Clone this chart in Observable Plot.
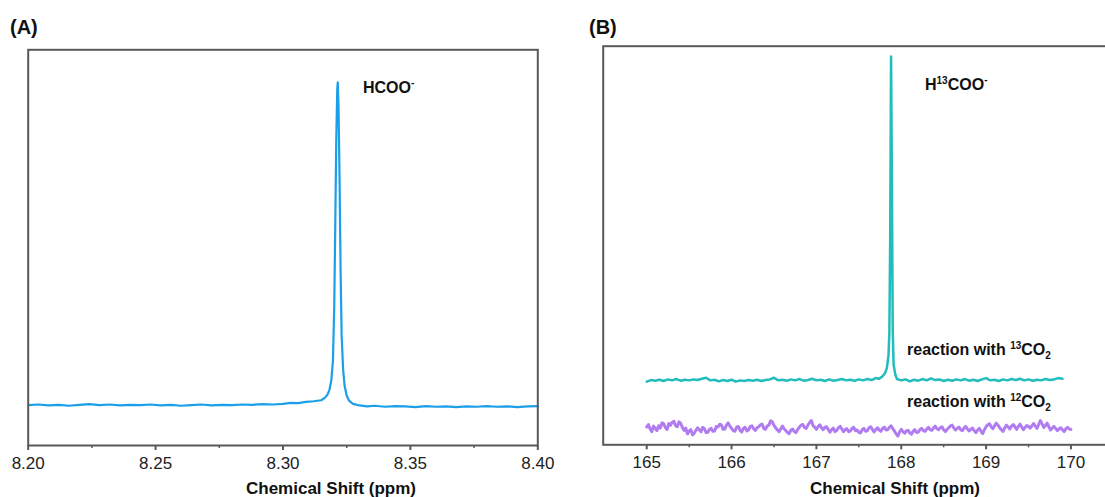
<!DOCTYPE html>
<html>
<head>
<meta charset="utf-8">
<script src="https://cdn.jsdelivr.net/npm/d3@7"></script>
<script src="https://cdn.jsdelivr.net/npm/@observablehq/plot@0.6"></script>
<style>
  html, body { margin: 0; padding: 0; background: #fff; overflow: hidden; }
  #wrap { position: relative; width: 1105px; height: 497px; overflow: hidden; font-family: "Liberation Sans", Arial, sans-serif; }
  #wrap > div.panel { position: absolute; top: 0; height: 497px; }
  #wrap svg { max-width: none !important; }
  #overlay { position: absolute; left: 0; top: 0; pointer-events: none; }
</style>
</head>
<body>
<div id="wrap">
  <div class="panel" id="pa" style="left:0px; width:560px"></div>
  <div class="panel" id="pb" style="left:560px; width:562px"></div>
  <svg id="overlay" width="1105" height="497" font-family="Liberation Sans, Arial, sans-serif" fill="#111">
    <text x="10" y="34" font-size="20" font-weight="bold">(A)</text>
    <text x="589" y="34" font-size="20" font-weight="bold">(B)</text>
    <text x="363" y="93" font-size="16" font-weight="bold">HCOO<tspan font-size="10" dy="-7">-</tspan></text>
    <text x="925" y="90" font-size="16" font-weight="bold">H<tspan font-size="10" dy="-6">13</tspan><tspan dy="6">COO</tspan><tspan font-size="10" dy="-7">-</tspan></text>
    <text x="907" y="355" font-size="16" font-weight="bold">reaction with <tspan font-size="10" dy="-6">13</tspan><tspan dy="6">CO</tspan><tspan font-size="10" dy="4">2</tspan></text>
    <text x="907" y="407" font-size="16" font-weight="bold">reaction with <tspan font-size="10" dy="-6">12</tspan><tspan dy="6">CO</tspan><tspan font-size="10" dy="4">2</tspan></text>
    <text x="331" y="494" font-size="17" font-weight="bold" text-anchor="middle">Chemical Shift (ppm)</text>
    <text x="895" y="494" font-size="17" font-weight="bold" text-anchor="middle">Chemical Shift (ppm)</text>
  </svg>
</div>
<script>
// ---- Panel A: 1H NMR, HCOO- (ppm, intensity) ----
const spectrumA = [
  [8.200,0.1],[8.204,0.3],[8.208,0.0],[8.212,0.2],[8.216,-0.1],[8.220,0.2],[8.224,0.4],[8.228,0.1],
  [8.232,0.3],[8.236,0.0],[8.240,0.2],[8.244,0.1],[8.248,0.3],[8.252,0.0],[8.256,0.2],[8.260,-0.1],
  [8.264,0.1],[8.268,0.3],[8.272,0.0],[8.276,0.2],[8.280,0.1],[8.284,0.3],[8.288,0.2],[8.292,0.4],
  [8.296,0.3],[8.300,0.5],[8.303,0.8],[8.306,0.7],[8.309,1.1],[8.312,1.3],[8.3150,1.6],[8.3165,2.4],
  [8.3175,3.4],[8.3183,5.0],[8.3190,8],[8.3196,14],[8.3201,30],[8.3205,55],[8.3209,82],[8.3213,98],
  [8.3215,100],[8.3218,92],[8.3222,70],[8.3226,42],[8.3230,22],[8.3236,11],[8.3242,6],[8.3250,3],
  [8.3260,1.4],[8.3275,0.5],[8.330,0.0],[8.333,-0.3],[8.336,-0.1],[8.340,-0.4],[8.344,-0.2],[8.348,-0.3],
  [8.352,-0.5],[8.356,-0.2],[8.360,-0.4],[8.364,-0.3],[8.368,-0.5],[8.372,-0.3],[8.376,-0.4],[8.380,-0.2],
  [8.384,-0.4],[8.388,-0.3],[8.392,-0.5],[8.396,-0.3],[8.400,-0.2]
];
const ticksA = [8.20, 8.25, 8.30, 8.35, 8.40];
const minorTicksA = [8.225, 8.275, 8.325, 8.375];

// ---- Panel B: 13C NMR, reaction with 13CO2 (teal) and 12CO2 (purple) ----
const spectrum13 = [
  [165.00,-0.2],[165.05,0.3],[165.10,0.1],[165.15,0.4],[165.20,0.0],[165.25,0.5],[165.30,0.2],[165.35,0.6],
  [165.40,0.1],[165.45,0.4],[165.50,0.2],[165.55,0.5],[165.60,0.3],[165.65,0.7],[165.70,1.0],[165.75,0.2],
  [165.80,0.4],[165.85,-0.1],[165.90,0.3],[165.95,0.0],[166.00,0.4],[166.05,-0.2],[166.10,0.2],[166.15,0.0],
  [166.20,0.3],[166.25,0.1],[166.30,0.4],[166.35,0.0],[166.40,0.3],[166.45,0.5],[166.50,1.0],[166.55,0.2],
  [166.60,0.4],[166.65,0.1],[166.70,0.5],[166.75,0.2],[166.80,0.6],[166.85,0.1],[166.90,0.3],[166.95,0.7],
  [167.00,0.2],[167.05,0.4],[167.10,0.0],[167.15,0.5],[167.20,0.1],[167.25,0.3],[167.30,0.6],[167.35,0.2],
  [167.40,0.4],[167.45,0.1],[167.50,0.5],[167.55,0.2],[167.60,0.6],[167.65,0.3],[167.70,0.9],[167.74,0.7],
  [167.78,1.5],[167.81,2.5],[167.83,4],[167.85,8],[167.86,15],[167.87,45],[167.88,100],[167.89,60],
  [167.90,15],[167.91,5],[167.93,2],[167.95,0.6],[168.00,0.2],[168.05,0.5],[168.10,-0.1],[168.15,0.4],
  [168.20,0.1],[168.25,0.6],[168.30,0.2],[168.35,0.8],[168.40,0.3],[168.45,0.5],[168.50,0.0],[168.55,0.4],
  [168.60,0.1],[168.65,0.5],[168.70,0.2],[168.75,0.6],[168.80,0.1],[168.85,0.4],[168.90,0.0],[168.95,0.5],
  [169.00,0.9],[169.05,0.2],[169.10,0.4],[169.15,0.0],[169.20,0.5],[169.25,0.2],[169.30,0.6],[169.35,0.3],
  [169.40,0.7],[169.45,0.2],[169.50,0.5],[169.55,0.1],[169.60,0.4],[169.65,0.2],[169.70,0.6],[169.75,0.3],
  [169.80,0.5],[169.85,0.9],[169.90,0.7]
];
const spectrum12 = [
  [165.00,-14.2],[165.02,-13.4],[165.04,-14.8],[165.06,-15.6],[165.08,-13.9],[165.10,-14.6],[165.12,-15.3],[165.14,-13.8],
  [165.16,-14.5],[165.18,-12.9],[165.20,-13.2],[165.22,-14.4],[165.24,-14.9],[165.26,-13.1],[165.28,-13.6],[165.30,-12.7],
  [165.32,-12.4],[165.34,-13.8],[165.36,-14.1],[165.38,-12.6],[165.40,-13.0],[165.42,-14.3],[165.44,-15.2],[165.46,-14.5],
  [165.48,-16.3],[165.50,-15.4],[165.52,-15.0],[165.54,-16.6],[165.56,-16.1],[165.58,-15.2],[165.60,-14.4],[165.62,-15.1],
  [165.64,-15.6],[165.66,-14.3],[165.68,-14.7],[165.70,-15.9],[165.72,-15.8],[165.74,-14.9],[165.76,-14.6],[165.78,-15.5],
  [165.80,-15.4],[165.82,-14.0],[165.84,-14.2],[165.86,-13.3],[165.88,-13.5],[165.90,-14.9],[165.92,-14.8],[165.94,-13.6],
  [165.96,-12.9],[165.98,-13.9],[166.00,-14.6],[166.02,-15.3],[166.04,-15.5],[166.06,-14.2],[166.08,-14.0],[166.10,-15.2],
  [166.12,-15.7],[166.14,-14.6],[166.16,-14.3],[166.18,-15.4],[166.20,-15.1],[166.22,-14.0],[166.24,-13.8],[166.26,-14.7],
  [166.28,-15.2],[166.30,-14.4],[166.32,-14.1],[166.34,-13.5],[166.36,-13.3],[166.38,-14.6],[166.40,-14.9],[166.42,-13.8],
  [166.44,-13.6],[166.46,-12.3],[166.48,-12.6],[166.50,-13.7],[166.52,-14.4],[166.54,-15.1],[166.56,-15.6],[166.58,-14.7],
  [166.60,-13.9],[166.62,-14.8],[166.64,-15.3],[166.66,-15.9],[166.68,-16.2],[166.70,-15.1],[166.72,-14.8],[166.74,-15.6],
  [166.76,-15.9],[166.78,-14.9],[166.80,-14.2],[166.82,-13.6],[166.84,-13.4],[166.86,-14.3],[166.88,-14.6],[166.90,-13.6],
  [166.92,-12.8],[166.94,-12.2],[166.96,-13.7],[166.98,-14.2],[167.00,-14.9],[167.02,-14.1],[167.04,-13.5],[167.06,-14.4],
  [167.08,-15.0],[167.10,-14.3],[167.12,-14.1],[167.14,-15.0],[167.16,-15.8],[167.18,-15.0],[167.20,-14.5],[167.22,-15.6],
  [167.24,-15.2],[167.26,-14.4],[167.28,-14.0],[167.30,-14.8],[167.32,-15.6],[167.34,-14.9],[167.36,-14.7],[167.38,-15.6],
  [167.40,-15.4],[167.42,-14.6],[167.44,-14.3],[167.46,-15.3],[167.48,-15.1],[167.50,-15.8],[167.52,-16.0],[167.54,-15.0],
  [167.56,-14.6],[167.58,-15.5],[167.60,-15.3],[167.62,-14.4],[167.64,-14.1],[167.66,-14.9],[167.68,-15.7],[167.70,-15.0],
  [167.72,-14.4],[167.74,-15.1],[167.76,-15.5],[167.78,-14.6],[167.80,-14.2],[167.82,-15.1],[167.84,-15.0],[167.86,-14.3],
  [167.88,-13.8],[167.90,-14.7],[167.92,-15.4],[167.94,-16.3],[167.96,-17.0],[167.98,-15.7],[168.00,-14.9],[168.02,-15.6],
  [168.04,-16.1],[168.06,-15.4],[168.08,-15.2],[168.10,-16.0],[168.12,-16.4],[168.14,-15.5],[168.16,-15.0],[168.18,-15.9],
  [168.20,-15.8],[168.22,-15.0],[168.24,-14.6],[168.26,-15.3],[168.28,-15.5],[168.30,-14.8],[168.32,-14.3],[168.34,-15.0],
  [168.36,-15.2],[168.38,-14.5],[168.40,-13.9],[168.42,-14.7],[168.44,-15.0],[168.46,-14.4],[168.48,-14.1],[168.50,-15.0],
  [168.52,-15.6],[168.54,-14.9],[168.56,-14.4],[168.58,-13.8],[168.60,-13.6],[168.62,-14.5],[168.64,-15.1],[168.66,-14.6],
  [168.68,-14.2],[168.70,-15.0],[168.72,-15.3],[168.74,-14.5],[168.76,-14.0],[168.78,-14.8],[168.80,-15.4],[168.82,-14.9],
  [168.84,-14.5],[168.86,-15.3],[168.88,-15.9],[168.90,-15.1],[168.92,-14.6],[168.94,-15.5],[168.96,-16.2],[168.98,-15.0],
  [169.00,-14.1],[169.02,-13.5],[169.04,-13.2],[169.06,-14.1],[169.08,-14.7],[169.10,-13.8],[169.12,-13.0],[169.14,-13.6],
  [169.16,-14.4],[169.18,-15.0],[169.20,-15.5],[169.22,-14.4],[169.24,-13.6],[169.26,-14.2],[169.28,-14.8],[169.30,-13.9],
  [169.32,-13.4],[169.34,-14.1],[169.36,-14.9],[169.38,-14.0],[169.40,-13.3],[169.42,-14.2],[169.44,-15.0],[169.46,-14.3],
  [169.48,-13.7],[169.50,-14.0],[169.52,-14.5],[169.54,-13.8],[169.56,-13.1],[169.58,-13.9],[169.60,-14.6],[169.62,-13.4],
  [169.64,-12.2],[169.66,-13.2],[169.68,-14.3],[169.70,-13.7],[169.72,-13.0],[169.74,-14.1],[169.76,-15.1],[169.78,-14.5],
  [169.80,-14.0],[169.82,-14.6],[169.84,-15.3],[169.86,-14.8],[169.88,-14.4],[169.90,-15.0],[169.92,-15.6],[169.94,-14.7],
  [169.96,-14.3],[169.98,-14.8],[170.00,-14.9]
];
const ticksB = [165, 166, 167, 168, 169, 170];
const minorTicksB = [165.5, 166.5, 167.5, 168.5, 169.5];

const colorA = "#1a9fe8";
const color13 = "#21bcbc";
const color12 = "#b17cf0";
const frameColor = "#595959";

const toRows = arr => arr.map(([x, y]) => ({x, y}));

const baseStyle = {fontFamily: "Liberation Sans, Arial, sans-serif", fontSize: "17px", color: "#222", background: "transparent", overflow: "visible", maxWidth: "none"};

const plotA = Plot.plot({
  width: 560, height: 497,
  marginLeft: 27.7, marginRight: 22.7, marginTop: 49.3, marginBottom: 52,
  style: baseStyle,
  x: {domain: [8.2, 8.4]},
  y: {domain: [-12.4, 110.1], axis: null},
  marks: [
    Plot.line(toRows(spectrumA), {x: "x", y: "y", stroke: colorA, strokeWidth: 2.2}),
    Plot.axisX({ticks: minorTicksA, tickSize: 3, tickFormat: () => "", stroke: frameColor, strokeWidth: 1.5, label: null}),
    Plot.axisX({ticks: ticksA, tickSize: 5, tickPadding: 6, fontSize: 17, tickFormat: d3.format(".2f"), stroke: frameColor, strokeWidth: 2, label: null}),
    Plot.frame({stroke: frameColor, strokeWidth: 2})
  ]
});
document.getElementById("pa").appendChild(plotA);

const plotB = Plot.plot({
  width: 562, height: 497,
  marginLeft: 42.7, marginRight: 10, marginTop: 45.7, marginBottom: 52.7,
  style: baseStyle,
  x: {domain: [164.487, 170.49]},
  y: {domain: [-19.66, 103.2], axis: null},
  marks: [
    Plot.line(toRows(spectrum12), {x: "x", y: "y", stroke: color12, strokeWidth: 3}),
    Plot.line(toRows(spectrum13), {x: "x", y: "y", stroke: color13, strokeWidth: 2.5}),
    Plot.axisX({ticks: minorTicksB, tickSize: 3, tickFormat: () => "", stroke: frameColor, strokeWidth: 1.5, label: null}),
    Plot.axisX({ticks: ticksB, tickSize: 5, tickPadding: 6, fontSize: 17, tickFormat: d3.format("d"), stroke: frameColor, strokeWidth: 2, label: null}),
    Plot.frame({stroke: frameColor, strokeWidth: 2})
  ]
});
document.getElementById("pb").appendChild(plotB);
</script>
</body>
</html>
